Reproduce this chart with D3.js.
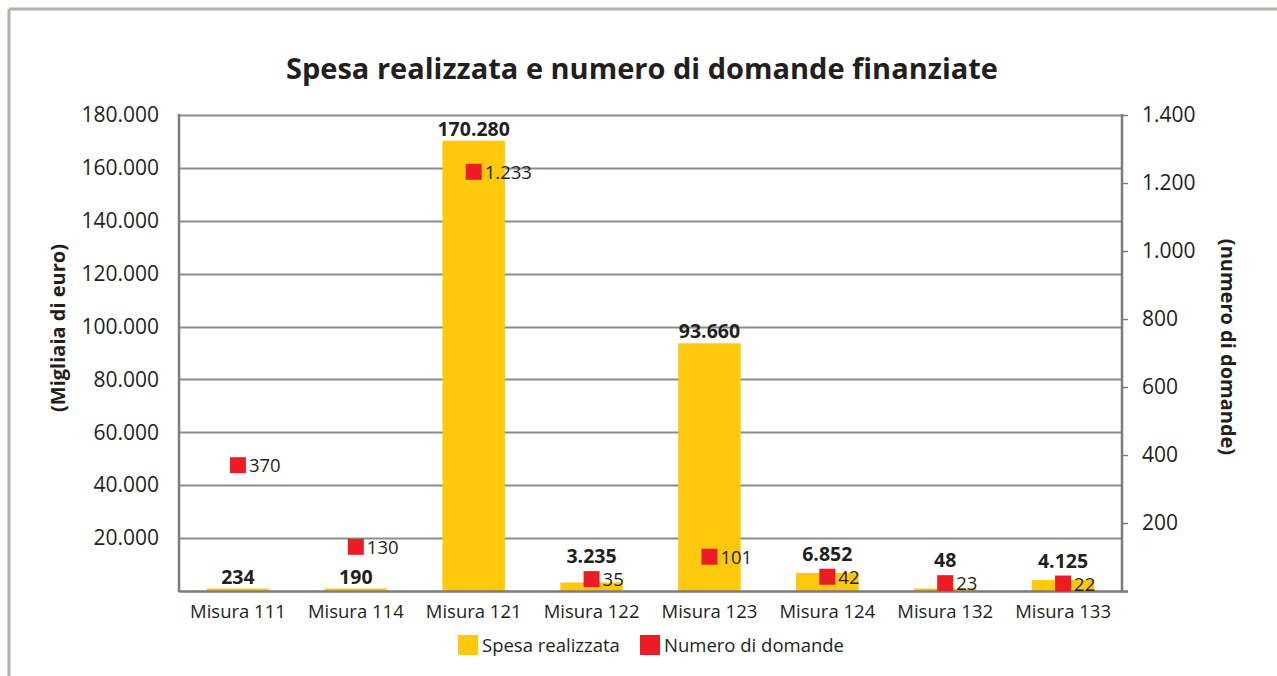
<!DOCTYPE html>
<html>
<head>
<meta charset="utf-8">
<script src="https://cdn.jsdelivr.net/npm/d3@7/dist/d3.min.js"></script>
<style>
  html, body { margin: 0; padding: 0; background: #fff; }
  svg { display: block; }
  text { font-family: "Open Sans", "Noto Sans", sans-serif; fill: #231f20; }
</style>
</head>
<body>
<svg id="chart" width="1277" height="676"></svg>
<script>
const categories = ["Misura 111", "Misura 114", "Misura 121", "Misura 122", "Misura 123", "Misura 124", "Misura 132", "Misura 133"];
const spesa = [234, 190, 170280, 3235, 93660, 6852, 48, 4125];
const domande = [370, 130, 1233, 35, 101, 42, 23, 22];
const leftTicks = [20000, 40000, 60000, 80000, 100000, 120000, 140000, 160000, 180000];
const rightTicks = [0, 200, 400, 600, 800, 1000, 1200, 1400];
const seriesNames = ["Spesa realizzata", "Numero di domande"];
const titleText = "Spesa realizzata e numero di domande finanziate";
const leftTitle = "(Migliaia di euro)";
const rightTitle = "(numero di domande)";

const W = 1277, H = 676;
const m = { left: 179, right: 1122, top: 115, bottom: 591 };
const YELLOW = "#fec80b", RED = "#ed1c24", GRID = "#8c8c8c", AXIS = "#7d7d7d";

const fmt = d3.formatLocale({ decimal: ",", thousands: ".", grouping: [3], currency: ["€", ""] }).format(",d");

const svg = d3.select("#chart");

// outer frame (top and left edges)
svg.append("line").attr("x1", 9).attr("x2", W).attr("y1", 9).attr("y2", 9)
  .attr("stroke", "#b3afa9").attr("stroke-width", 3);
svg.append("line").attr("x1", 9).attr("x2", 9).attr("y1", 9).attr("y2", H)
  .attr("stroke", "#b3afa9").attr("stroke-width", 3);

const x = d3.scaleBand().domain(categories).range([m.left, m.right]).paddingInner(0.47).paddingOuter(0.235);
const yL = d3.scaleLinear().domain([0, 180000]).range([m.bottom, m.top]);
const yR = d3.scaleLinear().domain([0, 1400]).range([m.bottom, m.top]);

// title
svg.append("text").attr("x", 642).attr("y", 79).attr("text-anchor", "middle")
  .attr("font-size", 29).attr("font-weight", 700).text(titleText);

// gridlines
svg.append("g").selectAll("line").data(leftTicks).join("line")
  .attr("x1", m.left).attr("x2", m.right)
  .attr("y1", d => Math.round(yL(d)) + 0.5).attr("y2", d => Math.round(yL(d)) + 0.5)
  .attr("stroke", GRID).attr("stroke-width", 2);

// left axis
const gL = svg.append("g").attr("transform", `translate(${m.left},0)`)
  .call(d3.axisLeft(yL).tickValues(leftTicks).tickSize(0).tickPadding(20).tickFormat(fmt));
gL.select(".domain").remove();
gL.selectAll("text").attr("font-size", 21).attr("font-family", "Open Sans, sans-serif").attr("fill", "#231f20");
svg.append("line").attr("x1", m.left).attr("x2", m.left).attr("y1", m.top - 1).attr("y2", m.bottom + 1)
  .attr("stroke", AXIS).attr("stroke-width", 2.5);

// right axis
const gR = svg.append("g").attr("transform", `translate(${m.right},0)`)
  .call(d3.axisRight(yR).tickValues(rightTicks).tickSize(6).tickPadding(14)
    .tickFormat(d => d === 0 ? "" : fmt(d)));
gR.select(".domain").remove();
gR.selectAll("line").attr("stroke", AXIS).attr("stroke-width", 1.5);
gR.selectAll("text").attr("font-size", 21).attr("font-family", "Open Sans, sans-serif").attr("fill", "#231f20");
svg.append("line").attr("x1", m.right).attr("x2", m.right).attr("y1", m.top - 1).attr("y2", m.bottom + 1)
  .attr("stroke", AXIS).attr("stroke-width", 2.5);

// bars
svg.append("g").selectAll("rect").data(spesa).join("rect")
  .attr("x", (d, i) => x(categories[i]))
  .attr("width", x.bandwidth())
  .attr("y", d => Math.min(yL(d), m.bottom - 2.5))
  .attr("height", d => Math.max(m.bottom - yL(d), 2.5))
  .attr("fill", YELLOW);

// bottom axis line
svg.append("line").attr("x1", m.left).attr("x2", m.right + 6).attr("y1", m.bottom + 0.5).attr("y2", m.bottom + 0.5)
  .attr("stroke", AXIS).attr("stroke-width", 2.5);

// category labels
svg.append("g").selectAll("text").data(categories).join("text")
  .attr("x", d => x(d) + x.bandwidth() / 2).attr("y", 618)
  .attr("text-anchor", "middle").attr("font-size", 18.5).text(d => d);

// markers
const S = 16;
svg.append("g").selectAll("rect").data(domande).join("rect")
  .attr("x", (d, i) => x(categories[i]) + x.bandwidth() / 2 - S / 2)
  .attr("y", d => yR(d) - S / 2)
  .attr("width", S).attr("height", S).attr("fill", RED);

svg.append("g").selectAll("text").data(domande).join("text")
  .attr("x", (d, i) => x(categories[i]) + x.bandwidth() / 2 + S / 2 + 3)
  .attr("y", d => yR(d) + 7)
  .attr("font-size", 18.5).text(d => fmt(d));

// bar value labels
svg.append("g").selectAll("text").data(spesa).join("text")
  .attr("x", (d, i) => x(categories[i]) + x.bandwidth() / 2)
  .attr("y", (d, i) => {
    const top = Math.min(yL(d), m.bottom - 2.5);
    let base = top - 5;
    const mTop = yR(domande[i]) - S / 2, mBot = yR(domande[i]) + S / 2;
    if (mBot > base - 18 && mTop < base + 2) base = mTop - 8;
    return base;
  })
  .attr("text-anchor", "middle").attr("font-size", 19.5).attr("font-weight", 700)
  .text(d => fmt(d));

// axis titles
svg.append("text").attr("transform", `translate(57,${(m.top + m.bottom) / 2 - 25}) rotate(-90)`)
  .attr("text-anchor", "middle").attr("dominant-baseline", "central")
  .attr("font-size", 20).attr("font-weight", 700).text(leftTitle);
svg.append("text").attr("transform", `translate(1228,${(m.top + m.bottom) / 2 - 6}) rotate(90)`)
  .attr("text-anchor", "middle").attr("dominant-baseline", "central")
  .attr("font-size", 20).attr("font-weight", 700).text(rightTitle);

// legend
const legend = svg.append("g");
const lx = [458, 640];
const lcol = [YELLOW, RED];
seriesNames.forEach((name, i) => {
  legend.append("rect").attr("x", lx[i]).attr("y", 635).attr("width", 20).attr("height", 20).attr("fill", lcol[i]);
  legend.append("text").attr("x", lx[i] + 24).attr("y", 652).attr("font-size", 18.5).text(name);
});
</script>
</body>
</html>
